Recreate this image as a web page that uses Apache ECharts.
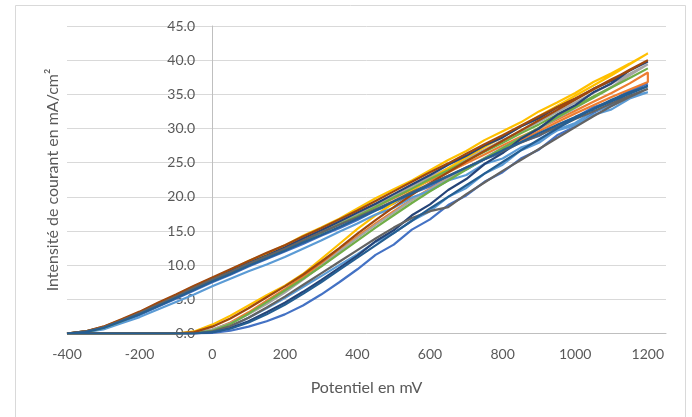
<!DOCTYPE html>
<html>
<head>
<meta charset="utf-8">
<script src="https://cdn.jsdelivr.net/npm/echarts@6/dist/echarts.min.js"></script>
<style>
html,body{margin:0;padding:0;background:#fff;}
#chart{width:692px;height:417px;}
</style>
</head>
<body>
<div id="chart"></div>
<script>
// Potential grid (mV)
const potentials = [-400,-350,-300,-250,-200,-150,-100,-50,0,50,100,150,200,250,300,350,400,450,500,550,600,650,700,750,800,850,900,950,1000,1050,1100,1150,1200];

// Forward scans (current, mA/cm²)
const fwdBlue      = [0,0,0,0,0,0,0,0.0,0.1,0.4,1.0,1.8,2.8,4.1,5.7,7.5,9.4,11.5,13.0,15.2,16.7,18.8,20.2,22.2,23.6,25.6,26.9,29.0,30.3,32.3,33.5,35.4,36.6];
const fwdOrange    = [0,0,0,0,0,0,0,0.1,0.5,1.6,3.1,4.8,6.5,8.3,10.2,12.2,14.2,16.1,17.9,19.6,21.2,22.7,24.2,25.6,27.0,28.3,29.6,30.9,32.2,33.4,34.6,35.7,36.8];
const fwdGray      = [0,0,0,0,0,0,0,0.1,0.6,1.5,2.8,4.3,6.0,7.9,9.9,12.0,14.0,15.9,17.7,19.5,21.1,22.7,24.2,25.7,27.2,28.6,30.0,31.5,33.0,34.6,36.1,37.8,39.4];
const fwdYellow    = [0,0,0,0,0,0,0.0,0.3,1.3,2.6,4.1,5.6,7.0,8.7,10.9,13.1,15.3,17.3,19.1,20.9,22.6,24.2,25.8,27.3,28.8,30.3,31.8,33.3,34.8,36.3,37.8,39.4,41.0];
const fwdLightBlue = [0,0,0,0,0,0,0,0.1,0.3,1.0,2.3,3.7,5.2,6.8,8.4,10.0,11.6,13.4,14.7,16.5,17.9,20.0,21.3,23.4,24.7,26.8,27.9,29.8,30.8,32.5,33.3,34.7,35.3];
const fwdGreen     = [0,0,0,0,0,0,0,0.1,0.4,1.4,2.9,4.6,6.3,8.0,9.8,11.7,13.6,15.5,17.3,19.1,20.8,22.4,24.0,25.6,27.1,28.6,30.1,31.6,33.1,34.5,36.0,37.4,38.8];
const fwdDarkBlue  = [0,0,0,0,0,0,0,0.0,0.2,0.8,1.8,3.1,4.5,6.1,7.8,9.6,11.4,13.5,15.1,17.3,18.9,21.0,22.6,24.8,26.4,28.5,30.0,32.0,33.4,35.3,36.6,38.5,39.8];
const fwdBrown     = [0,0,0,0,0,0,0.0,0.2,1.0,2.2,3.7,5.3,6.9,8.6,10.5,12.5,14.6,16.6,18.5,20.3,22.0,23.6,25.2,26.7,28.2,29.7,31.2,32.7,34.2,35.7,37.1,38.6,40.0];
const fwdDarkGray  = [0,0,0,0,0,0,0,0.0,0.3,1.1,2.3,3.8,5.4,7.1,8.8,10.5,12.2,13.9,15.5,16.9,17.9,18.5,20.4,22.1,23.8,25.4,27.0,28.6,30.2,31.8,33.3,34.6,35.8];
const fwdSteel     = [0,0,0,0,0,0,0,0.0,0.2,0.7,1.6,2.8,4.2,5.8,7.5,9.3,11.1,12.9,14.7,16.5,18.3,20.0,21.7,23.4,25.1,26.8,28.4,30.0,31.5,32.9,34.2,35.3,36.2];

// Reverse scans (listed by ascending potential)
const revBlue      = [0.0,0.2,0.7,1.7,2.7,3.9,5.1,6.3,7.5,8.6,9.8,10.9,12.0,13.1,14.3,15.4,16.6,18.0,19.0,20.5,21.5,23.0,24.0,25.5,26.5,28.0,28.9,30.5,31.6,33.1,34.0,35.6,36.6];
const revOrange    = [0.0,0.3,1.0,2.0,3.1,4.4,5.6,6.9,8.1,9.3,10.4,11.5,12.6,13.8,15.0,16.2,17.3,18.6,19.8,21.1,22.4,23.6,24.9,26.2,27.5,28.8,30.0,31.3,32.6,33.9,35.2,36.6,38.2];
const revGray      = [0.0,0.2,0.8,1.8,2.9,4.1,5.3,6.6,7.8,9.0,10.1,11.3,12.4,13.6,14.9,16.1,17.4,18.8,20.1,21.5,22.9,24.2,25.6,26.9,28.3,29.6,31.0,32.4,33.8,35.2,36.6,38.0,39.4];
const revYellow    = [0.0,0.3,0.9,1.9,3.0,4.3,5.5,6.8,8.0,9.3,10.6,11.7,12.9,14.3,15.5,16.8,18.3,19.8,21.1,22.4,23.9,25.4,26.7,28.3,29.6,30.9,32.5,33.8,35.2,36.8,38.1,39.5,41.0];
const revLightBlue = [0.0,0.2,0.6,1.5,2.4,3.5,4.6,5.7,6.9,8.0,9.1,10.1,11.2,12.4,13.6,14.9,16.1,17.4,18.4,19.9,20.9,22.4,23.2,24.8,25.6,27.2,28.1,29.7,30.5,32.0,32.8,34.4,35.3];
const revGreen     = [0.0,0.2,0.8,1.8,2.9,4.1,5.3,6.5,7.8,8.9,10.1,11.2,12.3,13.5,14.7,16.0,17.2,18.5,19.9,21.2,22.6,23.9,25.3,26.6,27.9,29.3,30.6,32.0,33.3,34.7,36.0,37.4,38.8];
const revDarkBlue  = [0.0,0.3,0.9,1.9,3.0,4.2,5.4,6.7,7.9,9.1,10.3,11.4,12.6,13.9,15.1,16.4,17.7,19.0,20.4,21.8,23.2,24.7,26.0,27.5,28.7,30.3,31.5,33.1,34.3,35.8,37.0,38.5,39.8];
const revBrown     = [0.0,0.3,1.0,2.1,3.2,4.5,5.7,7.0,8.2,9.4,10.6,11.8,12.9,14.2,15.4,16.7,18.0,19.4,20.8,22.2,23.6,24.9,26.3,27.7,29.0,30.4,31.8,33.1,34.4,35.8,37.2,38.5,40.0];
const revDarkGray  = [0.0,0.3,0.9,1.9,3.0,4.2,5.4,6.7,7.9,9.0,10.2,11.3,12.4,13.6,14.8,15.9,17.0,18.2,19.4,20.7,21.9,23.1,24.3,25.5,26.7,27.9,29.0,30.2,31.4,32.5,33.7,34.8,35.8];
const revSteel     = [0.0,0.2,0.8,1.8,2.8,4.0,5.2,6.4,7.6,8.7,9.9,11.0,12.1,13.3,14.4,15.6,16.8,18.0,19.3,20.5,21.8,23.0,24.3,25.5,26.8,28.0,29.3,30.5,31.7,32.8,34.0,35.1,36.2];

const seriesColors = ['#4472C4','#ED7D31','#A5A5A5','#FFC000','#5B9BD5','#70AD47','#264478','#9E480E','#636363','#255E91'];
const forwardScans = [fwdBlue,fwdOrange,fwdGray,fwdYellow,fwdLightBlue,fwdGreen,fwdDarkBlue,fwdBrown,fwdDarkGray,fwdSteel];
const reverseScans = [revBlue,revOrange,revGray,revYellow,revLightBlue,revGreen,revDarkBlue,revBrown,revDarkGray,revSteel];

const xTicks = [-400,-200,0,200,400,600,800,1000,1200];
const yTicks = [0,5,10,15,20,25,30,35,40,45];

function loop(fwd, rev) {
  const pts = potentials.map((p, i) => [p, fwd[i]]);
  for (let i = potentials.length - 1; i >= 0; i--) pts.push([potentials[i], rev[i]]);
  return pts;
}

const chart = echarts.init(document.getElementById('chart'), null, {renderer: 'canvas'});
const textColor = '#595959';
const font = 'Lato, "Open Sans", sans-serif';

chart.setOption({
  animation: false,
  backgroundColor: '#ffffff',
  graphic: [{
    type: 'rect',
    shape: {x: 15.5, y: 5.5, width: 670, height: 430},
    style: {fill: 'none', stroke: '#d9d9d9', lineWidth: 1},
    silent: true, z: -10
  }, {
    type: 'text',
    x: 53, y: 180,
    rotation: Math.PI / 2,
    style: {text: 'Intensité de courant en mA/cm²', fill: textColor, font: '16px ' + font, align: 'center', verticalAlign: 'middle'},
    silent: true
  }],
  grid: {left: 67, right: 26, top: 26, bottom: 83.5, containLabel: false, outerBoundsMode: 'none'},
  xAxis: {
    type: 'value',
    min: xTicks[0], max: 1250, interval: 200,
    name: 'Potentiel en mV', nameLocation: 'middle', nameGap: 46,
    nameTextStyle: {color: textColor, fontSize: 16, fontFamily: font},
    axisLine: {show: true, onZero: true, lineStyle: {color: '#bfbfbf', width: 1}},
    axisTick: {show: false},
    splitLine: {show: false},
    axisLabel: {color: textColor, fontSize: 14, fontFamily: font, margin: 14, showMaxLabel: false,
      formatter: v => xTicks.includes(v) ? String(v) : ''}
  },
  yAxis: {
    type: 'value',
    min: yTicks[0], max: yTicks[yTicks.length - 1], interval: 5,
    axisLine: {show: true, onZero: true, lineStyle: {color: '#bfbfbf', width: 1}},
    axisTick: {show: false},
    splitLine: {show: true, lineStyle: {color: '#d9d9d9', width: 1}},
    axisLabel: {color: textColor, fontSize: 14, fontFamily: font, margin: -128,
      formatter: v => v.toFixed(1)}
  },
  series: forwardScans.map((fwd, i) => ({
    type: 'line',
    data: loop(fwd, reverseScans[i]),
    showSymbol: false,
    symbol: 'none',
    smooth: false,
    lineStyle: {color: seriesColors[i], width: 2.2},
    itemStyle: {color: seriesColors[i]}
  }))
});
</script>
</body>
</html>
